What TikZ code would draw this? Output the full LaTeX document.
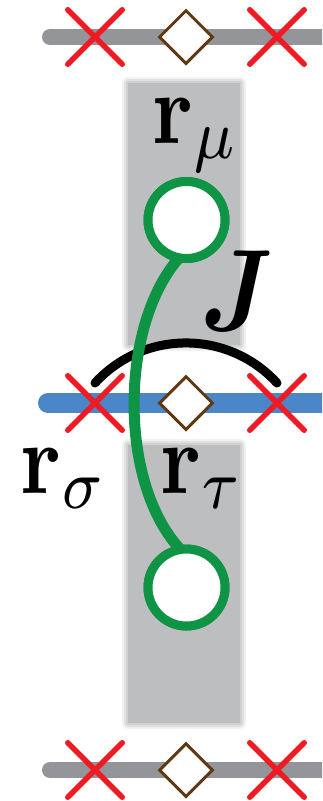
\documentclass[tikz,border=0pt]{standalone}
\usepackage{graphicx}
\usepackage{bm}
\usetikzlibrary{shapes.geometric,shapes.misc}
\definecolor{linegray}{HTML}{939598}
\definecolor{rectgray}{HTML}{BCBEC0}
\definecolor{lineblue}{HTML}{4A86C8}
\definecolor{xred}{HTML}{ED1C24}
\definecolor{dbrown}{HTML}{603913}
\definecolor{dgreen}{HTML}{0E9444}
\tikzset{
  grayline/.style={draw=linegray, line width=16pt, line cap=round},
  blueline/.style={draw=lineblue, line width=20pt, line cap=round},
  xmark/.style={cross out, draw=xred, line width=5.5pt, minimum size=49pt, inner sep=0pt, line cap=round},
  site/.style={diamond, draw=dbrown, fill=white, line width=3pt, minimum width=54pt, minimum height=54pt, inner sep=0pt, aspect=1},
  ring/.style={circle, draw=dgreen, fill=white, line width=9pt, minimum size=77pt, inner sep=0pt, outer sep=0pt},
  bond/.style={draw=dgreen, line width=11pt},
  jarc/.style={draw=black, line width=9pt, line cap=round},
  lbl/.style={inner sep=0pt, anchor=base west}
}
\begin{document}
\begin{tikzpicture}[x=1pt,y=-1pt]
\clip (0,0) rectangle (322,801);
\fill[white] (0,0) rectangle (322,801);
% gray background columns with soft edges
\foreach \d/\o in {6/0.2,4/0.3,2/0.45}{
  \fill[rectgray,opacity=\o,rounded corners=\d pt] (128-\d,83-\d) rectangle (240+\d,345+\d);
  \fill[rectgray,opacity=\o,rounded corners=\d pt] (128-\d,445-\d) rectangle (240+\d,723+\d);
}
\fill[rectgray] (128,83) rectangle (240,345);
\fill[rectgray] (128,445) rectangle (240,723);
% chains
\coordinate (t0) at (50,37);  \coordinate (t1) at (340,37);
\coordinate (m0) at (48,403); \coordinate (m1) at (340,403);
\coordinate (b0) at (50,770); \coordinate (b1) at (340,770);
\draw[grayline] (t0) -- (t1);
\draw[blueline] (m0) -- (m1);
\draw[grayline] (b0) -- (b1);
\node[xmark] (xt1) at (95,37) {};
\node[xmark] (xt2) at (277,37) {};
\node[site] (dt) at (186,37) {};
\node[xmark] (xm1) at (95,403) {};
\node[xmark] (xm2) at (277,403) {};
\node[site] (dm) at (186,403) {};
\node[xmark] (xb1) at (95,770) {};
\node[xmark] (xb2) at (277,770) {};
\node[site] (db) at (186,770) {};
% exchange arc
\coordinate (aL) at (95,383);
\coordinate (aR) at (277,383);
\draw[jarc] (aL) .. controls +(49,-53.4) and +(-49,-53.4) .. (aR);
% rings and bond
\node[ring] (mu) at (186.5,220) {};
\node[ring] (tau) at (186.5,587.5) {};
\draw[bond] (mu.-101) .. controls +(-60,68) and +(-62,-66) .. (tau.99);
\node[ring] at (mu) {};
\node[ring] at (tau) {};
% labels
\node[lbl] (lmu) at (152.5,143) {\scalebox{8.6}[10.1]{$\mathbf{r}_{\mu}$}};
\node[lbl] (lsig) at (20.5,493) {\scalebox{8.6}[10.1]{$\mathbf{r}_{\sigma}$}};
\node[lbl] (ltau) at (160.5,493) {\scalebox{8.6}[10.1]{$\mathbf{r}_{\tau}$}};
\node[lbl] (lJ) at (200,330) {\scalebox{10}[11.6]{$\bm{J}$}};
\end{tikzpicture}
\end{document}
